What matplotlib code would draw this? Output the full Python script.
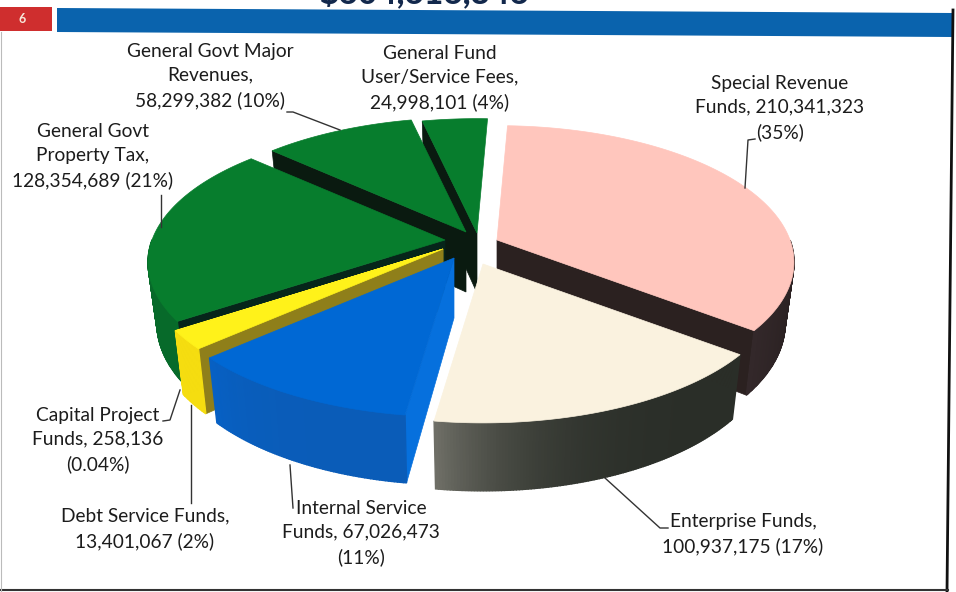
import numpy as np
import matplotlib
matplotlib.use('Agg')
import matplotlib.pyplot as plt
from matplotlib.colors import to_rgb
from matplotlib.patches import Polygon

plt.rcParams['font.family'] = ['Lato', 'DejaVu Sans']

# clockwise from the top of the pie
funds = ['Special Revenue', 'Enterprise', 'Internal Service', 'Debt Service',
         'Capital Project', 'General Govt Property Tax',
         'General Govt Major Revenues', 'General Fund User/Service Fees']
amounts = [210341323, 100937175, 67026473, 13401067, 258136, 128354689, 58299382, 24998101]

label_text = [
    'Special Revenue\nFunds, 210,341,323\n(35%)',
    'Enterprise Funds,\n100,937,175 (17%)',
    'Internal Service\nFunds, 67,026,473\n(11%)',
    'Debt Service Funds,\n13,401,067 (2%)',
    'Capital Project\nFunds, 258,136\n(0.04%)',
    'General Govt\nProperty Tax,\n128,354,689 (21%)',
    'General Govt Major\nRevenues,\n58,299,382 (10%)',
    'General Fund\nUser/Service Fees,\n24,998,101 (4%)',
]
label_pos = [(780, 108), (743, 534), (361, 533), (145, 529), (98, 440), (93, 156), (210, 76), (440, 78)]

top_color = ['#ffc6bd', '#faf2df', '#0068d4', '#fff21a', '#fff21a', '#077d2d', '#077d2d', '#077d2d']
cut_color = ['#2b2120', '#2a2a24', '#0670dd', '#8f7f1a', '#8f7f1a', '#06251a', '#0a1a10', '#0a1a10']
rim_from = ['#241c1c', '#2a2e28', '#0a5cb8', '#f5dd10', '#f5dd10', '#076a2a', '#076a2a', '#076a2a']
rim_to = ['#33282a', '#6e6e66', '#0760c4', '#f5dd10', '#f5dd10', '#097a2e', '#097a2e', '#097a2e']

# each slice is pulled out from the middle by its own amount
centers = [(497, 240), (483, 264), (454, 258), (443, 249), (443, 249), (445, 240), (466, 232), (477, 233)]
paint_order = [7, 6, 0, 5, 1, 4, 3, 2]
start_angle = 2.4

radius_x = 293
radius_y = 133
persp = 0.163
depth = 60


def project(theta, center, lower=False):
    u = np.sin(np.radians(theta))
    v = -np.cos(np.radians(theta))
    s = 1 / (1 - persp * v)
    if lower:
        return center[0] + radius_x * 0.97 * u * s, center[1] + depth + radius_y * 1.05 * v * s
    return center[0] + radius_x * u * s, center[1] + radius_y * v * s


fig = plt.figure(figsize=(9.56, 5.92), dpi=100)
ax = fig.add_axes([0, 0, 1, 1])
ax.set_xlim(0, 956)
ax.set_ylim(592, 0)
ax.axis('off')

# header strip
ax.add_patch(Polygon([(57, 8), (952, 13), (952, 37), (57, 32)], fc='#0a63ad', ec='none'))
ax.add_patch(Polygon([(0, 7), (52, 7), (52, 31), (0, 31)], fc='#cf2e2e', ec='none'))
ax.text(22, 19, '6', color='#f6e6d8', fontsize=9, fontweight='bold', ha='center', va='center')
ax.text(424, 3, '$604,616,346', color='#12284c', fontsize=24, fontweight='black', ha='center', va='baseline')

# frame
ax.plot([953, 947], [10, 592], color='#111111', lw=2)
ax.plot([0, 948], [590, 590], color='#333333', lw=1.5)
ax.plot([1, 1], [32, 592], color='#bbbbbb', lw=0.8)

shares = np.array(amounts) / sum(amounts) * 360
edges = start_angle + np.concatenate([[0], np.cumsum(shares)])

for i in paint_order:
    c = centers[i]
    a0, a1 = edges[i], edges[i + 1]
    thetas = np.linspace(a0, a1, max(int(a1 - a0) * 2, 2))
    top_arc = [project(t, c) for t in thetas]
    low_arc = [project(t, c, lower=True) for t in thetas]
    low_mid = (c[0], c[1] + depth)

    # only the cut face turned towards the viewer gets drawn
    faces = []
    if np.sin(np.radians(a0)) < 0:
        faces.append(a0)
    if np.sin(np.radians(a1)) > 0.1:
        faces.append(a1)
    for a in faces:
        ax.add_patch(Polygon([c, project(a, c), project(a, c, True), low_mid], fc=cut_color[i], ec=cut_color[i], lw=0.5))

    # outer rim in thin strips so the shade can change along it, back half stays hidden
    c0 = np.array(to_rgb(rim_from[i]))
    c1 = np.array(to_rgb(rim_to[i]))
    for j in range(len(thetas) - 1):
        if np.cos(np.radians(thetas[j])) > 0.0:
            continue
        f = (j / max(len(thetas) - 2, 1)) ** 4
        col = c0 * (1 - f) + c1 * f
        ax.add_patch(Polygon([top_arc[j], top_arc[j + 1], low_arc[j + 1], low_arc[j]], fc=col, ec=col, lw=1.0))

    ax.add_patch(Polygon([c] + top_arc, fc=top_color[i], ec=top_color[i], lw=0.5))

# leader lines
leaders = [
    [(755, 139), (748, 140), (745, 188)],
    [(605, 478), (660, 528), (668, 528)],
    [(293, 508), (290, 465)],
    [(191, 503), (191, 405)],
    [(163, 421), (170, 420), (180, 390)],
    [(161, 195), (161, 227)],
    [(287, 112), (293, 112), (340, 130)],
]
for line in leaders:
    xs, ys = zip(*line)
    ax.plot(xs, ys, color='#333333', lw=1)

for text, (x, y) in zip(label_text, label_pos):
    ax.text(x, y, text, color='#1c1c1c', fontsize=13.8, ha='center', va='center', linespacing=1.52)

fig.savefig('out.png', dpi=100)
